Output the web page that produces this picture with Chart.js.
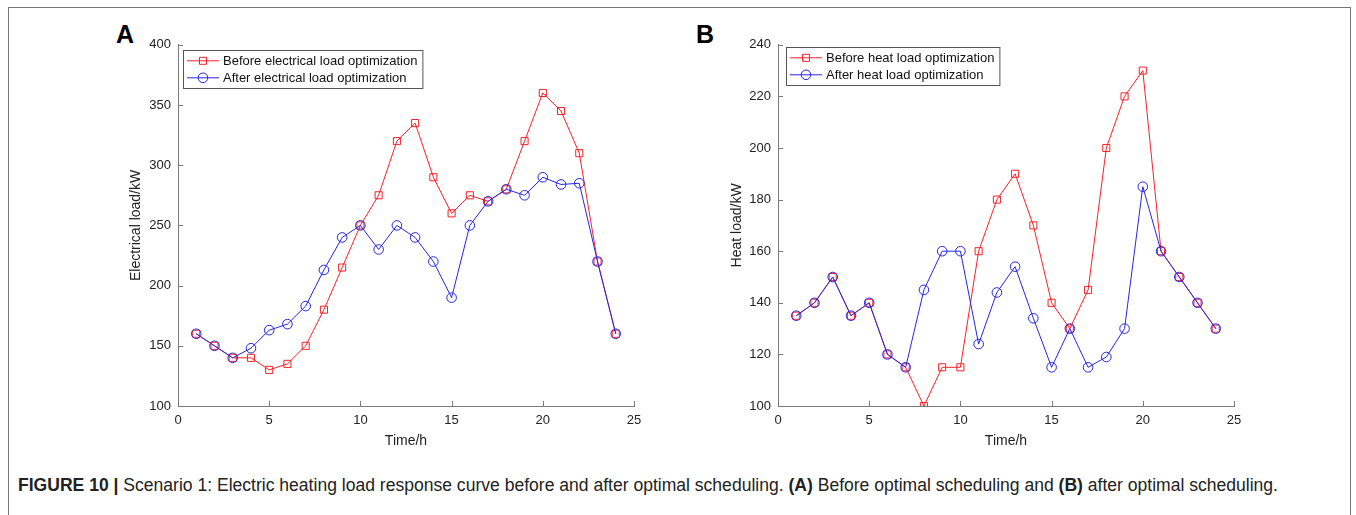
<!DOCTYPE html>
<html lang="en">
<head>
<meta charset="UTF-8">
<title>Figure 10</title>
<script src="https://cdn.jsdelivr.net/npm/chart.js"></script>
<style>
    body {
        margin: 0;
        width: 1356px;
        height: 515px;
        background: #ffffff;
        overflow: hidden;
        position: relative;
        font-family: 'Liberation Sans', Arial, sans-serif;
    }
    .frame {
        position: absolute;
        left: 8px;
        top: 7px;
        width: 1343px;
        height: 600px;
        border: 1px solid #777;
        box-sizing: border-box;
    }
    .panel {
        position: absolute;
        top: 30px;
        width: 560px;
        height: 430px;
    }
    .letter {
        position: absolute;
        top: 22px;
        font-size: 25px;
        font-weight: bold;
        line-height: 1;
        color: #000;
    }
    .caption {
        position: absolute;
        left: 18px;
        top: 475px;
        font-size: 17.5px;
        line-height: 20px;
        color: #222;
        white-space: nowrap;
        font-family: 'Liberation Sans Narrow', 'Liberation Sans', Arial, sans-serif;
        transform-origin: 0 0;
    }
</style>
</head>
<body>
<div class="frame"></div>
<div class="letter" style="left:116px">A</div>
<div class="letter" style="left:696px">B</div>
<div class="panel" style="left:100px"><canvas id="chartA" width="560" height="430"></canvas></div>
<div class="panel" style="left:700px"><canvas id="chartB" width="560" height="430"></canvas></div>
<div class="caption" id="caption"><b>FIGURE 10 |</b> Scenario 1: Electric heating load response curve before and after optimal scheduling. <b>(A)</b> Before optimal scheduling and <b>(B)</b> after optimal scheduling.</div>

<script>
// hours 1..24
const hours = [1, 2, 3, 4, 5, 6, 7, 8, 9, 10, 11, 12, 13, 14, 15, 16, 17, 18, 19, 20, 21, 22, 23, 24];

// panel A: electrical load (kW)
const elecBefore = [160, 150, 140, 140, 130, 135, 150, 180, 215, 250, 275, 320, 335, 290, 260, 275, 270, 280, 320, 360, 345, 310, 220, 160];
const elecAfter  = [160, 150, 140, 148, 163, 168, 183, 213, 240, 250, 230, 250, 240, 220, 190, 250, 270, 280, 275, 290, 284, 285, 220, 160];

// panel B: heat load (kW)
const heatBefore = [135, 140, 150, 135, 140, 120, 115, 100, 115, 115, 160, 180, 190, 170, 140, 130, 145, 200, 220, 230, 160, 150, 140, 130];
const heatAfter  = [135, 140, 150, 135, 140, 120, 115, 145, 160, 160, 124, 144, 154, 134, 115, 130, 115, 119, 130, 185, 160, 150, 140, 130];

// axis ticks
const xTicks = [0, 5, 10, 15, 20, 25];
const elecTicks = [100, 150, 200, 250, 300, 350, 400];
const heatTicks = [100, 120, 140, 160, 180, 200, 220, 240];

const RED = '#f5222a';
const BLUE = '#2626e0';
const AXIS = '#7a7a7a';
const FONT = "'Liberation Sans', Arial, sans-serif";

function toPoints(ys) {
    return hours.map((h, i) => ({ x: h, y: ys[i] }));
}

// small inward tick marks, like the original figure
const innerTicks = {
    id: 'innerTicks',
    afterDatasetsDraw(chart) {
        const ctx = chart.ctx;
        const xs = chart.scales.x, ys = chart.scales.y;
        const area = chart.chartArea;
        ctx.save();
        ctx.strokeStyle = AXIS;
        ctx.lineWidth = 1;
        ctx.beginPath();
        xs.ticks.forEach(t => {
            const px = Math.round(xs.getPixelForValue(t.value)) + 0.5;
            ctx.moveTo(px, area.bottom);
            ctx.lineTo(px, area.bottom - 5);
        });
        ys.ticks.forEach(t => {
            const py = Math.round(ys.getPixelForValue(t.value)) + 0.5;
            ctx.moveTo(area.left, py);
            ctx.lineTo(area.left + 5, py);
        });
        ctx.stroke();
        ctx.restore();
    }
};

function drawMarker(ctx, style, x, y, color) {
    ctx.strokeStyle = color;
    ctx.lineWidth = 1;
    ctx.beginPath();
    if (style === 'rect') {
        ctx.rect(x - 3.5, y - 3.5, 7, 7);
    } else {
        ctx.arc(x, y, 4.8, 0, Math.PI * 2);
    }
    ctx.stroke();
}

// matlab-like legend box in the upper left of the axes
const boxLegend = {
    id: 'boxLegend',
    afterDraw(chart, args, opts) {
        const ctx = chart.ctx;
        const area = chart.chartArea;
        const x0 = area.left + opts.dx;
        const y0 = area.top + opts.dy;
        ctx.save();
        ctx.font = '13px ' + FONT;
        const sets = chart.data.datasets;
        const textW = Math.max(...sets.map(d => ctx.measureText(d.label).width));
        const w = 40 + textW + 5;
        const h = 38;
        ctx.fillStyle = '#fff';
        ctx.fillRect(x0, y0, w, h);
        ctx.strokeStyle = '#555';
        ctx.lineWidth = 1;
        ctx.strokeRect(Math.round(x0) + 0.5, Math.round(y0) + 0.5, w, h);
        sets.forEach((d, i) => {
            const cy = y0 + 11 + i * 17;
            ctx.strokeStyle = d.borderColor;
            ctx.beginPath();
            ctx.moveTo(x0 + 4, cy);
            ctx.lineTo(x0 + 36, cy);
            ctx.stroke();
            drawMarker(ctx, d.pointStyle, x0 + 20, cy, d.borderColor);
            ctx.fillStyle = '#111';
            ctx.textBaseline = 'middle';
            ctx.fillText(d.label, x0 + 40, cy + 0.5);
        });
        ctx.restore();
    }
};

function makeChart(id, labels, before, after, yTitle, yMin, yMax, yStep, titleOffset, legendPos) {
    return new Chart(document.getElementById(id), {
        type: 'line',
        data: {
            datasets: [{
                label: labels[0],
                data: toPoints(before),
                borderColor: RED,
                backgroundColor: 'transparent',
                borderWidth: 1,
                pointStyle: 'rect',
                pointRadius: 5,
                pointBorderWidth: 1,
                pointBackgroundColor: 'transparent',
                pointBorderColor: RED,
                order: 2
            }, {
                label: labels[1],
                data: toPoints(after),
                borderColor: BLUE,
                backgroundColor: 'transparent',
                borderWidth: 1,
                pointStyle: 'circle',
                pointRadius: 4.8,
                pointBorderWidth: 1,
                pointBackgroundColor: 'transparent',
                pointBorderColor: BLUE,
                order: 1
            }]
        },
        options: {
            responsive: false,
            animation: false,
            layout: { padding: { left: 0, top: 14, right: 26, bottom: 0 } },
            plugins: {
                legend: { display: false },
                tooltip: { enabled: false },
                boxLegend: legendPos
            },
            scales: {
                x: {
                    type: 'linear',
                    min: 0,
                    max: 25,
                    afterBuildTicks: s => { s.ticks = xTicks.map(v => ({ value: v })); },
                    grid: { drawOnChartArea: false, drawTicks: false },
                    border: { color: AXIS, width: 1 },
                    ticks: { padding: 7, color: '#222', font: { family: FONT, size: 13 } },
                    title: { display: true, text: 'Time/h', color: '#222', font: { family: FONT, size: 14 }, padding: { top: 0, bottom: 10 } },
                    afterFit: s => { s.height = 54; }
                },
                y: {
                    min: yMin,
                    max: yMax,
                    afterBuildTicks: s => { s.ticks = yStep.map(v => ({ value: v })); },
                    grid: { drawOnChartArea: false, drawTicks: false },
                    border: { color: AXIS, width: 1 },
                    ticks: { padding: 7, color: '#222', font: { family: FONT, size: 13 } },
                    title: { display: true, text: yTitle, color: '#222', font: { family: FONT, size: 14 }, padding: { top: titleOffset, bottom: 0 } },
                    afterFit: s => { s.width = 78; }
                }
            }
        },
        plugins: [innerTicks, boxLegend]
    });
}

makeChart('chartA', ['Before electrical load optimization', 'After electrical load optimization'],
    elecBefore, elecAfter, 'Electrical load/kW', 100, 400, elecTicks, 28, { dx: 5, dy: 5 });
makeChart('chartB', ['Before heat load optimization', 'After heat load optimization'],
    heatBefore, heatAfter, 'Heat load/kW', 100, 240, heatTicks, 29, { dx: 8, dy: 2 });

// the caption in the paper is set in a condensed face; squeeze it to the same span
const cap = document.getElementById('caption');
const capW = cap.getBoundingClientRect().width;
cap.style.transform = 'scaleX(' + (1260 / capW) + ')';
</script>
</body>
</html>
